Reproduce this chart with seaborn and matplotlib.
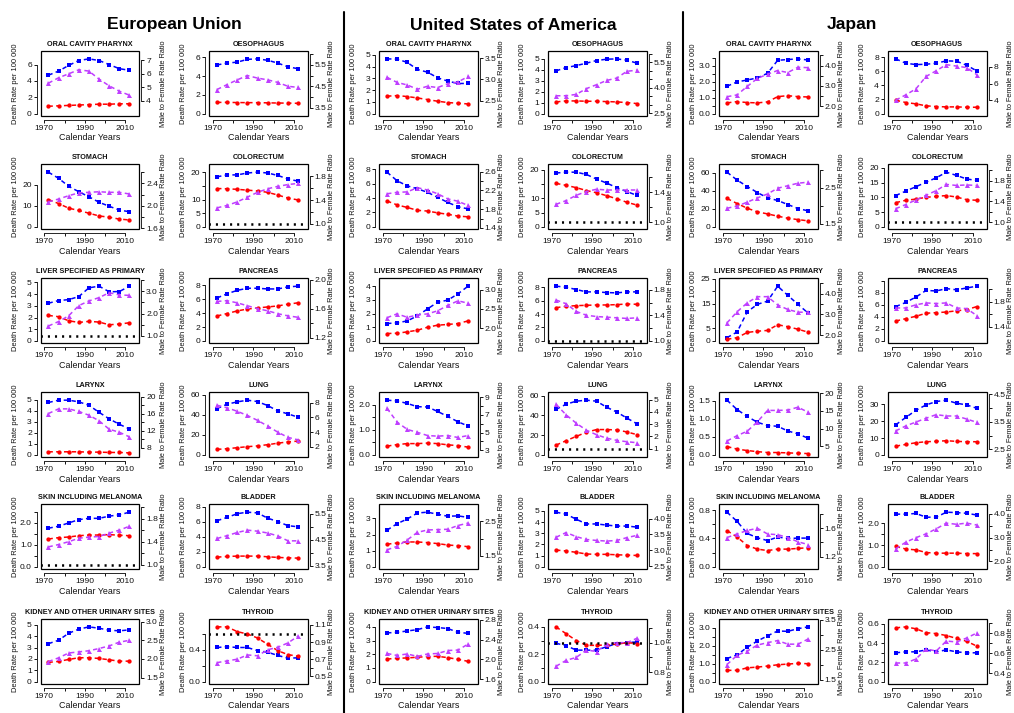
import matplotlib
matplotlib.use("Agg")
import matplotlib.pyplot as plt
import seaborn as sns
import pandas as pd
from matplotlib.patches import Rectangle
from matplotlib.lines import Line2D

# ---------------- data ----------------
YEARS = [1972, 1977, 1982, 1987, 1992, 1997, 2002, 2007, 2012]
REGIONS = ["European Union", "United States of America", "Japan"]
SITES = ["ORAL CAVITY PHARYNX", "OESOPHAGUS", "STOMACH", "COLORECTUM",
         "LIVER SPECIFIED AS PRIMARY", "PANCREAS", "LARYNX", "LUNG",
         "SKIN INCLUDING MELANOMA", "BLADDER", "KIDNEY AND OTHER URINARY SITES", "THYROID"]
X_TICKS = [1970, 1980, 1990, 2000, 2010]
X_LABELS = ["1970", "", "1990", "", "2010"]

eu_male = {
    "ORAL CAVITY PHARYNX": [4.7, 5.2, 5.9, 6.5, 6.7, 6.5, 6.0, 5.5, 5.3],
    "OESOPHAGUS": [5.2, 5.4, 5.5, 5.8, 5.85, 5.7, 5.4, 5.0, 4.8],
    "STOMACH": [26.0, 23.1, 19.3, 16.7, 14.3, 11.7, 9.8, 8.0, 7.2],
    "COLORECTUM": [18.4, 19.1, 19.1, 19.8, 20.1, 19.8, 18.9, 17.6, 16.8],
    "LIVER SPECIFIED AS PRIMARY": [3.22, 3.45, 3.53, 3.79, 4.54, 4.68, 4.2, 4.22, 4.68],
    "PANCREAS": [6.2, 6.8, 7.3, 7.6, 7.6, 7.5, 7.5, 7.8, 7.9],
    "LARYNX": [4.74, 4.95, 4.95, 4.8, 4.49, 3.85, 3.26, 2.77, 2.34],
    "LUNG": [46.3, 50.7, 53.0, 54.7, 53.3, 49.3, 44.0, 41.0, 37.7],
    "SKIN INCLUDING MELANOMA": [1.76, 1.85, 2.0, 2.15, 2.21, 2.21, 2.31, 2.37, 2.49],
    "BLADDER": [6.16, 6.6, 7.1, 7.3, 7.2, 6.5, 6.05, 5.5, 5.35],
    "KIDNEY AND OTHER URINARY SITES": [3.34, 3.64, 4.26, 4.62, 4.82, 4.7, 4.53, 4.47, 4.56],
    "THYROID": [0.43, 0.44, 0.43, 0.43, 0.39, 0.37, 0.33, 0.295, 0.3],
}
eu_female = {
    "ORAL CAVITY PHARYNX": [0.9, 0.95, 1.0, 1.05, 1.1, 1.15, 1.15, 1.2, 1.2],
    "OESOPHAGUS": [1.2, 1.2, 1.18, 1.17, 1.17, 1.15, 1.13, 1.12, 1.1],
    "STOMACH": [13.0, 11.1, 8.9, 7.8, 6.5, 5.2, 4.6, 3.7, 3.3],
    "COLORECTUM": [14.1, 14.0, 13.8, 13.5, 13.2, 12.7, 11.7, 10.6, 9.9],
    "LIVER SPECIFIED AS PRIMARY": [2.18, 2.07, 1.72, 1.58, 1.67, 1.61, 1.38, 1.44, 1.55],
    "PANCREAS": [3.6, 3.95, 4.33, 4.6, 4.76, 4.9, 5.05, 5.3, 5.5],
    "LARYNX": [0.28, 0.28, 0.28, 0.28, 0.25, 0.25, 0.22, 0.22, 0.18],
    "LUNG": [5.5, 6.2, 7.2, 8.2, 9.0, 10.2, 11.7, 13.0, 13.8],
    "SKIN INCLUDING MELANOMA": [1.27, 1.33, 1.36, 1.42, 1.45, 1.45, 1.47, 1.44, 1.42],
    "BLADDER": [1.3, 1.39, 1.44, 1.44, 1.44, 1.35, 1.26, 1.21, 1.17],
    "KIDNEY AND OTHER URINARY SITES": [1.69, 1.78, 1.95, 2.1, 2.1, 2.04, 1.92, 1.8, 1.8],
    "THYROID": [0.69, 0.69, 0.63, 0.6, 0.55, 0.47, 0.39, 0.34, 0.32],
}
eu_ratio = {
    "ORAL CAVITY PHARYNX": [5.3, 5.7, 6.0, 6.3, 6.2, 5.6, 5.1, 4.7, 4.4],
    "OESOPHAGUS": [4.35, 4.58, 4.8, 5.0, 4.88, 4.8, 4.68, 4.5, 4.45],
    "STOMACH": [2.07, 2.12, 2.18, 2.23, 2.24, 2.25, 2.24, 2.24, 2.21],
    "COLORECTUM": [1.27, 1.31, 1.37, 1.45, 1.53, 1.59, 1.63, 1.66, 1.68],
    "LIVER SPECIFIED AS PRIMARY": [1.44, 1.64, 1.9, 2.36, 2.57, 2.72, 2.94, 2.84, 2.82],
    "PANCREAS": [1.7, 1.71, 1.68, 1.64, 1.6, 1.57, 1.53, 1.5, 1.48],
    "LARYNX": [16.0, 17.1, 17.1, 16.5, 15.6, 14.3, 12.3, 11.6, 10.5],
    "LUNG": [7.65, 7.3, 6.83, 6.26, 5.6, 4.83, 4.0, 3.3, 2.96],
    "SKIN INCLUDING MELANOMA": [1.31, 1.35, 1.4, 1.46, 1.48, 1.49, 1.55, 1.6, 1.67],
    "BLADDER": [4.55, 4.66, 4.78, 4.87, 4.83, 4.76, 4.65, 4.46, 4.46],
    "KIDNEY AND OTHER URINARY SITES": [1.93, 2.03, 2.16, 2.19, 2.22, 2.28, 2.35, 2.45, 2.5],
    "THYROID": [0.66, 0.68, 0.7, 0.75, 0.74, 0.81, 0.84, 0.89, 0.97],
}

us_male = {
    "ORAL CAVITY PHARYNX": [4.65, 4.63, 4.35, 3.75, 3.52, 3.04, 2.76, 2.56, 2.56],
    "OESOPHAGUS": [3.88, 4.18, 4.36, 4.58, 4.82, 4.94, 4.97, 4.85, 4.58],
    "STOMACH": [7.6, 6.4, 5.7, 5.3, 4.8, 4.1, 3.4, 2.8, 2.5],
    "COLORECTUM": [18.8, 19.1, 19.1, 18.3, 16.7, 15.3, 13.7, 12.3, 11.0],
    "LIVER SPECIFIED AS PRIMARY": [1.27, 1.32, 1.46, 1.83, 2.34, 2.83, 2.98, 3.44, 4.0],
    "PANCREAS": [8.15, 8.0, 7.65, 7.3, 7.3, 7.2, 7.15, 7.3, 7.3],
    "LARYNX": [2.18, 2.15, 2.05, 1.92, 1.91, 1.73, 1.53, 1.32, 1.15],
    "LUNG": [46.2, 51.4, 54.5, 55.5, 54.5, 48.3, 43.5, 37.3, 31.5],
    "SKIN INCLUDING MELANOMA": [2.27, 2.67, 2.96, 3.33, 3.38, 3.25, 3.13, 3.15, 3.06],
    "BLADDER": [4.88, 4.7, 4.25, 3.83, 3.83, 3.73, 3.64, 3.64, 3.55],
    "KIDNEY AND OTHER URINARY SITES": [3.56, 3.6, 3.7, 3.8, 4.0, 3.95, 3.88, 3.6, 3.53],
    "THYROID": [0.28, 0.263, 0.23, 0.23, 0.23, 0.255, 0.278, 0.285, 0.29],
}
us_female = {
    "ORAL CAVITY PHARYNX": [1.48, 1.53, 1.45, 1.33, 1.19, 1.05, 0.94, 0.88, 0.82],
    "OESOPHAGUS": [1.06, 1.15, 1.15, 1.12, 1.12, 1.09, 1.06, 1.0, 0.91],
    "STOMACH": [3.6, 3.05, 2.7, 2.3, 2.2, 1.95, 1.75, 1.5, 1.4],
    "COLORECTUM": [15.2, 14.5, 13.7, 12.7, 11.9, 10.9, 9.8, 8.6, 7.6],
    "LIVER SPECIFIED AS PRIMARY": [0.54, 0.56, 0.66, 0.78, 1.0, 1.15, 1.2, 1.27, 1.46],
    "PANCREAS": [4.95, 5.15, 5.25, 5.3, 5.35, 5.35, 5.4, 5.5, 5.45],
    "LARYNX": [0.35, 0.41, 0.45, 0.45, 0.47, 0.45, 0.4, 0.37, 0.31],
    "LUNG": [9.9, 14.4, 18.8, 22.9, 25.7, 25.7, 25.3, 23.3, 20.5],
    "SKIN INCLUDING MELANOMA": [1.4, 1.48, 1.54, 1.54, 1.5, 1.44, 1.35, 1.31, 1.25],
    "BLADDER": [1.5, 1.42, 1.3, 1.15, 1.12, 1.12, 1.08, 1.05, 1.02],
    "KIDNEY AND OTHER URINARY SITES": [1.65, 1.7, 1.73, 1.78, 1.83, 1.85, 1.75, 1.63, 1.48],
    "THYROID": [0.4, 0.35, 0.3, 0.265, 0.265, 0.268, 0.273, 0.285, 0.278],
}
us_ratio = {
    "ORAL CAVITY PHARYNX": [3.05, 2.93, 2.87, 2.77, 2.84, 2.81, 2.9, 2.94, 3.07],
    "OESOPHAGUS": [3.52, 3.52, 3.6, 3.94, 4.17, 4.42, 4.56, 4.96, 5.02],
    "STOMACH": [2.13, 2.16, 2.17, 2.26, 2.21, 2.13, 2.02, 1.97, 1.88],
    "COLORECTUM": [1.24, 1.29, 1.36, 1.41, 1.44, 1.43, 1.43, 1.43, 1.43],
    "LIVER SPECIFIED AS PRIMARY": [2.27, 2.37, 2.28, 2.34, 2.37, 2.45, 2.59, 2.71, 2.65],
    "PANCREAS": [1.64, 1.58, 1.46, 1.4, 1.38, 1.37, 1.36, 1.35, 1.36],
    "LARYNX": [7.73, 6.18, 5.35, 5.02, 4.66, 4.59, 4.66, 4.44, 4.66],
    "LUNG": [4.62, 3.76, 3.08, 2.51, 2.14, 1.86, 1.68, 1.57, 1.49],
    "SKIN INCLUDING MELANOMA": [1.67, 1.77, 1.96, 2.18, 2.25, 2.26, 2.27, 2.38, 2.45],
    "BLADDER": [3.41, 3.56, 3.43, 3.34, 3.31, 3.29, 3.31, 3.4, 3.47],
    "KIDNEY AND OTHER URINARY SITES": [2.12, 2.08, 2.11, 2.06, 2.11, 2.12, 2.18, 2.19, 2.31],
    "THYROID": [0.84, 0.88, 0.9, 0.95, 0.94, 0.99, 1.0, 1.0, 1.03],
}

jp_male = {
    "ORAL CAVITY PHARYNX": [1.71, 1.98, 2.1, 2.23, 2.52, 3.33, 3.38, 3.42, 3.35],
    "OESOPHAGUS": [7.76, 7.14, 6.95, 7.0, 7.14, 7.48, 7.43, 6.86, 6.05],
    "STOMACH": [60.7, 51.9, 44.8, 38.1, 32.2, 29.3, 24.8, 20.4, 17.8],
    "COLORECTUM": [10.6, 12.1, 13.6, 15.1, 16.6, 18.5, 17.4, 16.2, 15.7],
    "LIVER SPECIFIED AS PRIMARY": [1.3, 3.6, 11.7, 14.7, 16.0, 22.0, 18.3, 14.7, 11.2],
    "PANCREAS": [5.7, 6.4, 7.3, 8.4, 8.3, 8.7, 8.5, 8.8, 9.1],
    "LARYNX": [1.51, 1.25, 1.06, 0.9, 0.81, 0.79, 0.66, 0.58, 0.46],
    "LUNG": [17.8, 22.2, 26.4, 29.6, 31.6, 32.4, 30.6, 29.6, 27.6],
    "SKIN INCLUDING MELANOMA": [0.77, 0.64, 0.47, 0.41, 0.37, 0.42, 0.4, 0.405, 0.405],
    "BLADDER": [2.42, 2.42, 2.45, 2.28, 2.28, 2.51, 2.49, 2.46, 2.38],
    "KIDNEY AND OTHER URINARY SITES": [1.29, 1.5, 1.92, 2.27, 2.56, 2.83, 2.81, 2.96, 3.06],
    "THYROID": [0.3, 0.31, 0.31, 0.33, 0.31, 0.33, 0.31, 0.3, 0.3],
}
jp_female = {
    "ORAL CAVITY PHARYNX": [0.67, 0.75, 0.69, 0.67, 0.73, 1.06, 1.12, 1.06, 1.04],
    "OESOPHAGUS": [1.9, 1.57, 1.38, 1.1, 1.0, 0.95, 0.95, 0.9, 0.9],
    "STOMACH": [31.5, 25.9, 20.7, 16.7, 14.4, 11.9, 9.6, 8.1, 6.7],
    "COLORECTUM": [8.2, 9.0, 9.4, 10.0, 10.3, 10.6, 10.1, 9.2, 9.0],
    "LIVER SPECIFIED AS PRIMARY": [0.65, 1.3, 3.4, 3.9, 4.2, 6.5, 5.7, 4.7, 3.5],
    "PANCREAS": [3.3, 3.7, 4.1, 4.6, 4.7, 4.8, 5.0, 5.2, 5.7],
    "LARYNX": [0.23, 0.16, 0.12, 0.09, 0.065, 0.065, 0.055, 0.046, 0.037],
    "LUNG": [5.2, 6.2, 7.2, 7.8, 8.0, 8.4, 8.0, 7.8, 7.8],
    "SKIN INCLUDING MELANOMA": [0.51, 0.42, 0.3, 0.25, 0.23, 0.25, 0.25, 0.26, 0.27],
    "BLADDER": [0.94, 0.82, 0.78, 0.66, 0.63, 0.63, 0.63, 0.61, 0.61],
    "KIDNEY AND OTHER URINARY SITES": [0.63, 0.63, 0.77, 0.81, 0.87, 0.94, 0.98, 1.02, 1.0],
    "THYROID": [0.56, 0.57, 0.55, 0.51, 0.5, 0.48, 0.45, 0.42, 0.37],
}
jp_ratio = {
    "ORAL CAVITY PHARYNX": [2.47, 2.56, 2.98, 3.37, 3.58, 3.76, 3.66, 3.92, 3.9],
    "OESOPHAGUS": [4.0, 4.64, 5.36, 6.85, 7.53, 8.26, 8.09, 7.91, 7.06],
    "STOMACH": [1.93, 1.99, 2.1, 2.22, 2.33, 2.49, 2.56, 2.63, 2.66],
    "COLORECTUM": [1.26, 1.34, 1.43, 1.52, 1.61, 1.73, 1.71, 1.72, 1.71],
    "LIVER SPECIFIED AS PRIMARY": [2.59, 3.13, 3.56, 3.86, 3.86, 3.46, 3.24, 3.11, 3.1],
    "PANCREAS": [1.7, 1.7, 1.75, 1.78, 1.77, 1.78, 1.7, 1.69, 1.58],
    "LARYNX": [6.5, 8.0, 9.25, 11.9, 15.1, 15.1, 15.2, 16.0, 14.6],
    "LUNG": [3.17, 3.35, 3.49, 3.63, 3.76, 3.71, 3.71, 3.6, 3.48],
    "SKIN INCLUDING MELANOMA": [1.47, 1.52, 1.57, 1.6, 1.52, 1.51, 1.47, 1.41, 1.37],
    "BLADDER": [2.53, 2.81, 3.0, 3.16, 3.37, 3.61, 3.56, 3.61, 3.53],
    "KIDNEY AND OTHER URINARY SITES": [2.0, 2.31, 2.45, 2.65, 2.73, 2.8, 2.68, 2.68, 2.85],
    "THYROID": [0.5, 0.5, 0.54, 0.64, 0.62, 0.72, 0.71, 0.75, 0.8],
}

# axis ticks / tick labels per panel: (left ticks, left labels, right ticks, right labels, right range)
eu_axes = {
    "ORAL CAVITY PHARYNX": ([0, 2, 4, 6], ["0", "2", "4", "6"], [4, 5, 6, 7], ["4", "5", "6", "7"], (2.85, 7.7)),
    "OESOPHAGUS": ([0, 2, 4, 6], ["0", "2", "4", "6"], [3.5, 4, 4.5, 5, 5.5, 6], ["3.5", "", "4.5", "", "5.5", ""], (3.12, 6.14)),
    "STOMACH": ([0, 10, 20], ["0", "10", "20"], [1.6, 1.8, 2.0, 2.2, 2.4, 2.6], ["1.6", "", "2.0", "", "2.4", ""], (1.58, 2.74)),
    "COLORECTUM": ([0, 5, 10, 15, 20], ["0", "5", "10", "", "20"], [1.0, 1.2, 1.4, 1.6, 1.8], ["1.0", "", "1.4", "", "1.8"], (0.91, 2.0)),
    "LIVER SPECIFIED AS PRIMARY": ([0, 1, 2, 3, 4, 5], ["0", "1", "2", "3", "4", "5"], [1.0, 1.5, 2.0, 2.5, 3.0, 3.5], ["1.0", "", "2.0", "", "3.0", ""], (0.66, 3.59)),
    "PANCREAS": ([0, 2, 4, 6, 8], ["0", "2", "4", "6", "8"], [1.2, 1.4, 1.6, 1.8, 2.0], ["1.2", "", "1.6", "", "2.0"], (1.12, 2.02)),
    "LARYNX": ([0, 1, 2, 3, 4, 5], ["0", "1", "2", "3", "4", "5"], [8, 10, 12, 14, 16, 18, 20], ["8", "", "12", "", "16", "", "20"], (5.7, 21.0)),
    "LUNG": ([0, 20, 40, 60], ["0", "20", "40", "60"], [2, 4, 6, 8], ["2", "4", "6", "8"], (0.6, 9.4)),
    "SKIN INCLUDING MELANOMA": ([0, 0.5, 1.0, 1.5, 2.0, 2.5], ["0.0", "", "1.0", "", "2.0", ""], [1.0, 1.2, 1.4, 1.6, 1.8, 2.0], ["1.0", "", "1.4", "", "1.8", ""], (0.92, 2.05)),
    "BLADDER": ([0, 2, 4, 6, 8], ["0", "2", "4", "6", "8"], [3.5, 4.0, 4.5, 5.0, 5.5], ["3.5", "", "4.5", "", "5.5"], (3.37, 5.86)),
    "KIDNEY AND OTHER URINARY SITES": ([0, 1, 2, 3, 4, 5], ["0", "1", "2", "3", "4", "5"], [1.5, 2.0, 2.5, 3.0], ["1.5", "2.0", "2.5", "3.0"], (1.33, 3.07)),
    "THYROID": ([0, 0.2, 0.4, 0.6], ["0.0", "", "0.4", ""], [0.5, 0.6, 0.7, 0.8, 0.9, 1.0, 1.1], ["0.5", "", "0.7", "", "0.9", "", "1.1"], (0.41, 1.17)),
}
us_axes = {
    "ORAL CAVITY PHARYNX": ([0, 1, 2, 3, 4, 5], ["0", "1", "2", "3", "4", "5"], [2.5, 3.0, 3.5], ["2.5", "3.0", "3.5"], (2.14, 3.67)),
    "OESOPHAGUS": ([0, 1, 2, 3, 4, 5], ["0", "1", "2", "3", "4", "5"], [2.5, 3.0, 3.5, 4.0, 4.5, 5.0, 5.5, 6.0], ["2.5", "", "", "4.0", "", "", "5.5", ""], (2.33, 6.15)),
    "STOMACH": ([0, 2, 4, 6, 8], ["0", "2", "4", "6", "8"], [1.4, 1.6, 1.8, 2.0, 2.2, 2.4, 2.6], ["1.4", "", "1.8", "", "2.2", "", "2.6"], (1.37, 2.76)),
    "COLORECTUM": ([0, 5, 10, 15, 20], ["0", "5", "10", "", "20"], [1.0, 1.2, 1.4, 1.6], ["1.0", "", "1.4", ""], (0.91, 1.77)),
    "LIVER SPECIFIED AS PRIMARY": ([0, 1, 2, 3, 4], ["0", "1", "2", "3", "4"], [2.0, 2.5, 3.0], ["2.0", "2.5", "3.0"], (1.6, 3.3)),
    "PANCREAS": ([0, 2, 4, 6, 8], ["0", "2", "4", "6", "8"], [1.0, 1.2, 1.4, 1.6, 1.8], ["1.0", "", "1.4", "", "1.8"], (0.96, 1.98)),
    "LARYNX": ([0, 0.5, 1.0, 1.5, 2.0], ["0.0", "", "1.0", "", "2.0"], [3, 4, 5, 6, 7, 8, 9], ["3", "", "5", "", "7", "", "9"], (2.2, 9.55)),
    "LUNG": ([0, 20, 40, 60], ["0", "20", "40", "60"], [1, 2, 3, 4, 5], ["1", "2", "3", "4", "5"], (0.3, 5.6)),
    "SKIN INCLUDING MELANOMA": ([0, 1, 2, 3], ["0", "1", "2", "3"], [1.5, 2.0, 2.5], ["1.5", "", "2.5"], (1.1, 3.0)),
    "BLADDER": ([0, 1, 2, 3, 4, 5], ["0", "1", "2", "3", "4", "5"], [2.5, 3.0, 3.5, 4.0], ["2.5", "3.0", "3.5", "4.0"], (2.4, 4.45)),
    "KIDNEY AND OTHER URINARY SITES": ([0, 1, 2, 3, 4], ["0", "1", "2", "3", "4"], [1.6, 2.0, 2.4, 2.8], ["1.6", "2.0", "2.4", "2.8"], (1.5, 2.82)),
    "THYROID": ([0, 0.1, 0.2, 0.3, 0.4], ["0.0", "", "0.2", "", "0.4"], [0.8, 0.9, 1.0, 1.1], ["0.8", "", "1.0", ""], (0.72, 1.16)),
}
jp_axes = {
    "ORAL CAVITY PHARYNX": ([0, 0.5, 1, 1.5, 2, 2.5, 3, 3.5], ["0.0", "", "1.0", "", "2.0", "", "3.0", ""], [2.0, 2.5, 3.0, 3.5, 4.0, 4.5], ["2.0", "", "3.0", "", "4.0", ""], (1.52, 4.72)),
    "OESOPHAGUS": ([0, 2, 4, 6, 8], ["0", "2", "4", "6", "8"], [4, 6, 8], ["4", "6", "8"], (2.1, 9.9)),
    "STOMACH": ([0, 20, 40, 60], ["0", "20", "40", "60"], [1.5, 2.0, 2.5, 3.0], ["1.5", "", "2.5", ""], (1.34, 3.16)),
    "COLORECTUM": ([0, 5, 10, 15, 20], ["0", "5", "10", "15", "20"], [1.0, 1.2, 1.4, 1.6, 1.8, 2.0], ["1.0", "", "1.4", "", "1.8", ""], (0.86, 2.12)),
    "LIVER SPECIFIED AS PRIMARY": ([0, 5, 10, 15, 20, 25], ["0", "5", "", "15", "", "25"], [2.0, 2.5, 3.0, 3.5, 4.0, 4.5], ["2.0", "", "3.0", "", "4.0", ""], (1.6, 4.75)),
    "PANCREAS": ([0, 2, 4, 6, 8, 10], ["0", "2", "4", "6", "8", ""], [1.4, 1.6, 1.8, 2.0], ["1.4", "", "1.8", ""], (1.14, 2.17)),
    "LARYNX": ([0, 0.5, 1.0, 1.5], ["0.0", "0.5", "1.0", "1.5"], [5, 10, 15, 20], ["5", "10", "15", "20"], (1.9, 20.2)),
    "LUNG": ([0, 10, 20, 30], ["0", "10", "20", "30"], [2.5, 3.0, 3.5, 4.0, 4.5], ["2.5", "", "3.5", "", "4.5"], (2.21, 4.57)),
    "SKIN INCLUDING MELANOMA": ([0, 0.2, 0.4, 0.6, 0.8], ["0.0", "", "0.4", "", "0.8"], [1.2, 1.4, 1.6, 1.8], ["1.2", "", "1.6", ""], (1.02, 1.94)),
    "BLADDER": ([0, 0.5, 1.0, 1.5, 2.0], ["0.0", "", "1.0", "", "2.0"], [2.0, 2.5, 3.0, 3.5, 4.0], ["2.0", "", "3.0", "", "4.0"], (1.67, 4.4)),
    "KIDNEY AND OTHER URINARY SITES": ([0, 0.5, 1.0, 1.5, 2.0, 2.5, 3.0], ["0.0", "", "1.0", "", "2.0", "", "3.0"], [1.5, 2.0, 2.5, 3.0, 3.5], ["1.5", "", "2.5", "", "3.5"], (1.35, 3.52)),
    "THYROID": ([0, 0.1, 0.2, 0.3, 0.4, 0.5, 0.6], ["0.0", "", "0.2", "", "0.4", "", "0.6"], [0.4, 0.5, 0.6, 0.7, 0.8, 0.9], ["0.4", "", "0.6", "", "0.8", ""], (0.29, 0.94)),
}
# panels with reference line at ratio = 1
eu_ref = ["COLORECTUM", "LIVER SPECIFIED AS PRIMARY", "SKIN INCLUDING MELANOMA", "THYROID"]
us_ref = ["COLORECTUM", "PANCREAS", "LUNG", "THYROID"]
jp_ref = ["COLORECTUM"]

# ---------------- style ----------------
sns.set_style("ticks")
plt.rcParams["font.family"] = ["Liberation Sans", "DejaVu Sans"]
plt.rcParams["lines.scale_dashes"] = False
BLUE, RED, PURPLE = "#0000FF", "#FF0000", "#BF3EFF"
TXT = "#111111"

W, H = 1014, 713
fig = plt.figure(figsize=(W / 100, H / 100), dpi=100)


def fx(px):
    return px / W


def fy(py):
    return 1 - py / H


BOX_W, BOX_H = 98.5, 65.0
COL_X = [[40.7, 209.3], [379.3, 548.3], [719.3, 888.0]]
ROW_TOP = [51.0, 164.3, 278.3, 392.3, 504.3, 619.0]
DASH = (0, (3.2, 2.4))


def draw_panel(x0, y0, site, male, female, ratio, spec, ref):
    lt, ll, rt, rl, rlim = spec
    ax = fig.add_axes([fx(x0), fy(y0 + BOX_H), BOX_W / W, BOX_H / H])
    df = pd.DataFrame({"year": YEARS, "male": male, "female": female, "ratio": ratio})
    common = dict(linestyle=DASH, linewidth=1.1, markeredgewidth=0, legend=False)
    sns.lineplot(data=df, x="year", y="male", ax=ax, color=BLUE, marker="s", markersize=3.2, **common)
    sns.lineplot(data=df, x="year", y="female", ax=ax, color=RED, marker="o", markersize=3.1, **common)
    top = max(max(male), max(female)) * 1.10
    lo, hi = -0.04 * top, 1.04 * top
    ax.set_ylim(lo, hi)
    ax.set_xlim(1968.2, 2016.8)
    ax.set_xlabel("")
    ax.set_ylabel("")
    keep = [(t, l) for t, l in zip(lt, ll) if lo <= t <= hi]
    ax.set_yticks([k[0] for k in keep])
    ax.set_yticklabels([k[1] for k in keep], rotation=90, va="center")
    ax.set_xticks(X_TICKS)
    ax.set_xticklabels(X_LABELS)
    for s in ["top", "right"]:
        ax.spines[s].set_visible(False)
    ax.spines["left"].set_position(("outward", 2.9))
    ax.spines["bottom"].set_position(("outward", 2.9))
    ax.spines["left"].set_bounds(keep[0][0], keep[-1][0])
    ax.spines["bottom"].set_bounds(1970, 2010)
    for s in ["left", "bottom"]:
        ax.spines[s].set_linewidth(0.7)
    ax.tick_params(direction="out", length=2.3, width=0.7, labelsize=6.1, pad=1.2, colors=TXT)
    ax.add_patch(Rectangle((0, 0), 1, 1, transform=ax.transAxes, fill=False,
                           lw=0.9, ec="black", clip_on=False, zorder=5))

    ax2 = ax.twinx()
    sns.lineplot(data=df, x="year", y="ratio", ax=ax2, color=PURPLE, marker="^", markersize=3.6, **common)
    if site in ref:
        ax2.axhline(1.0, color="black", linestyle=(0.5, (1.5, 3.6)), linewidth=1.8)
    ax2.set_ylim(*rlim)
    ax2.set_ylabel("")
    rkeep = [(t, l) for t, l in zip(rt, rl) if rlim[0] <= t <= rlim[1]]
    ax2.set_yticks([k[0] for k in rkeep])
    ax2.set_yticklabels([k[1] for k in rkeep], rotation=90, va="center")
    for s in ["top", "left", "bottom"]:
        ax2.spines[s].set_visible(False)
    ax2.spines["right"].set_position(("outward", 1.5))
    ax2.spines["right"].set_bounds(rkeep[0][0], rkeep[-1][0])
    ax2.spines["right"].set_linewidth(0.7)
    ax2.tick_params(direction="out", length=2.3, width=0.7, labelsize=6.1, pad=1.2, colors=TXT)

    cx = x0 + BOX_W / 2
    fig.text(fx(cx), fy(y0 - 6.5), site, ha="center", va="center", fontsize=5.2,
             fontweight="bold", color=TXT)
    fig.text(fx(cx), fy(y0 + BOX_H + 22), "Calendar Years", ha="center", va="center",
             fontsize=6.4, color=TXT)
    fig.text(fx(x0 - 25.5), fy(y0 + BOX_H / 2), "Death Rate per 100 000", rotation=90,
             ha="center", va="center", fontsize=5.4, color=TXT)
    fig.text(fx(x0 + BOX_W + 24), fy(y0 + BOX_H / 2), "Male to Female Rate Ratio", rotation=90,
             ha="center", va="center", fontsize=5.3, color=TXT)


REGION_DATA = [
    (eu_male, eu_female, eu_ratio, eu_axes, eu_ref),
    (us_male, us_female, us_ratio, us_axes, us_ref),
    (jp_male, jp_female, jp_ratio, jp_axes, jp_ref),
]
REGION_TITLE_X = [174, 513, 852]

for ri, (m, f, r, axs, ref) in enumerate(REGION_DATA):
    fig.text(fx(REGION_TITLE_X[ri]), fy(25), REGIONS[ri], ha="center", va="center",
             fontsize=12.6, fontweight="bold", color="black")
    for si, site in enumerate(SITES):
        row, col = si // 2, si % 2
        draw_panel(COL_X[ri][col], ROW_TOP[row], site, m[site], f[site], r[site], axs[site], ref)

for xs in [343.5, 683.0]:
    fig.add_artist(Line2D([fx(xs), fx(xs)], [fy(12), fy(713)], transform=fig.transFigure,
                          color="black", lw=1.5))

fig.savefig("out.png", dpi=100)
